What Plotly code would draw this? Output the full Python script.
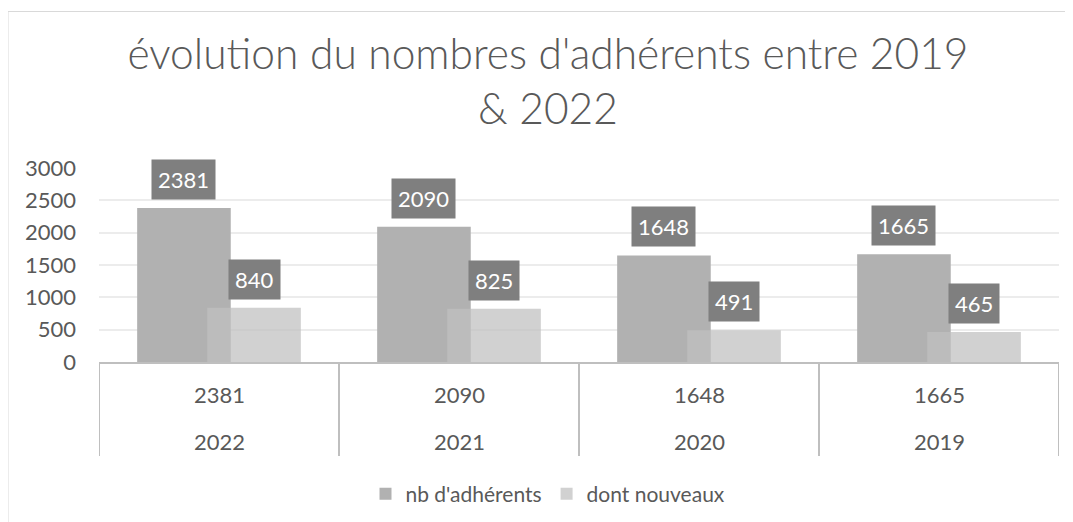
import plotly.graph_objects as go

# ---- data ----
years = ["2022", "2021", "2020", "2019"]
adherents = [2381, 2090, 1648, 1665]
nouveaux = [840, 825, 491, 465]
series_names = ["nb d'adhérents", "dont nouveaux"]
title_text = "évolution du nombres d'adhérents entre 2019<br>& 2022"
y_ticks = [0, 500, 1000, 1500, 2000, 2500, 3000]

# ---- layout geometry (page body adds an 8px offset) ----
OFF = 8
W, H = 1073, 522
plot_w, plot_h = 960, 194
L = 99 - OFF
T = 168 - OFF
R = W - L - plot_w
B = H - T - plot_h


def py(px):
    # window pixel y -> paper y
    return (T + plot_h - (px - OFF)) / plot_h


def pxp(px):
    # window pixel x -> paper x
    return ((px - OFF) - L) / plot_w


BAR_W = 0.39
SHIFT = 0.146
FONT = "Lato"
TXT = "#595959"
DARK = "#b1b1b1"
LIGHT = "rgba(192,192,192,0.73)"
LINE = "#bfbfbf"

fig = go.Figure()
fig.add_trace(go.Bar(x=years, y=adherents, name=series_names[0], width=BAR_W,
                     offset=-SHIFT - BAR_W / 2, marker=dict(color=DARK, line=dict(width=0))))
fig.add_trace(go.Bar(x=years, y=nouveaux, name=series_names[1], width=BAR_W,
                     offset=SHIFT - BAR_W / 2, marker=dict(color=LIGHT, line=dict(width=0))))

annotations = []
for i, (a, n) in enumerate(zip(adherents, nouveaux)):
    for xv, v in ((i - SHIFT, a), (i + SHIFT, n)):
        annotations.append(dict(x=xv, y=v, xref="x", yref="y", text=str(v), showarrow=False,
                                yanchor="bottom", yshift=8, bgcolor="#7f7f7f", borderpad=6,
                                font=dict(family=FONT, size=22, color="white")))
    annotations.append(dict(x=i, y=py(394), xref="x", yref="paper", text=str(a), showarrow=False,
                            yanchor="middle", font=dict(family=FONT, size=22, color=TXT)))
    annotations.append(dict(x=i, y=py(441), xref="x", yref="paper", text=years[i], showarrow=False,
                            yanchor="middle", font=dict(family=FONT, size=22, color=TXT)))

shapes = []
for i in range(len(years) + 1):
    shapes.append(dict(type="line", xref="x", yref="paper", x0=i - 0.5, x1=i - 0.5,
                       y0=0, y1=py(456), line=dict(color=LINE, width=2)))
# chart border (top and left)
shapes.append(dict(type="line", xref="paper", yref="paper", x0=pxp(8), x1=pxp(W + 40),
                   y0=py(11.5), y1=py(11.5), line=dict(color="#d9d9d9", width=1)))
shapes.append(dict(type="line", xref="paper", yref="paper", x0=pxp(8), x1=pxp(8),
                   y0=py(11.5), y1=py(H + 40), line=dict(color="#d9d9d9", width=1)))

fig.update_layout(
    width=W, height=H,
    margin=dict(l=L, r=R, t=T, b=B),
    paper_bgcolor="white", plot_bgcolor="white",
    barmode="overlay",
    font=dict(family=FONT, color=TXT),
    title=dict(text=title_text, x=(548 - OFF) / W, xref="container", xanchor="center",
               y=1 - 61 / H, yref="container", yanchor="top",
               font=dict(family=FONT, size=42.5, color=TXT, weight=300)),
    xaxis=dict(type="category", categoryorder="array", categoryarray=years,
               range=[-0.5, len(years) - 0.5], showticklabels=False, ticks="",
               showline=True, linecolor=LINE, linewidth=2, showgrid=False, zeroline=False),
    yaxis=dict(range=[0, 3000], tickvals=y_ticks, showgrid=True, gridcolor="#ececec", gridwidth=1.5,
               zeroline=False, showline=False, ticks="", ticklabelstandoff=22,
               tickfont=dict(family=FONT, size=22, color=TXT)),
    legend=dict(orientation="h", x=pxp(548), xanchor="center", y=py(494), yanchor="middle",
                font=dict(family=FONT, size=21, color=TXT), bgcolor="rgba(0,0,0,0)"),
    annotations=annotations,
    shapes=shapes,
)

fig.write_html("out.html")
